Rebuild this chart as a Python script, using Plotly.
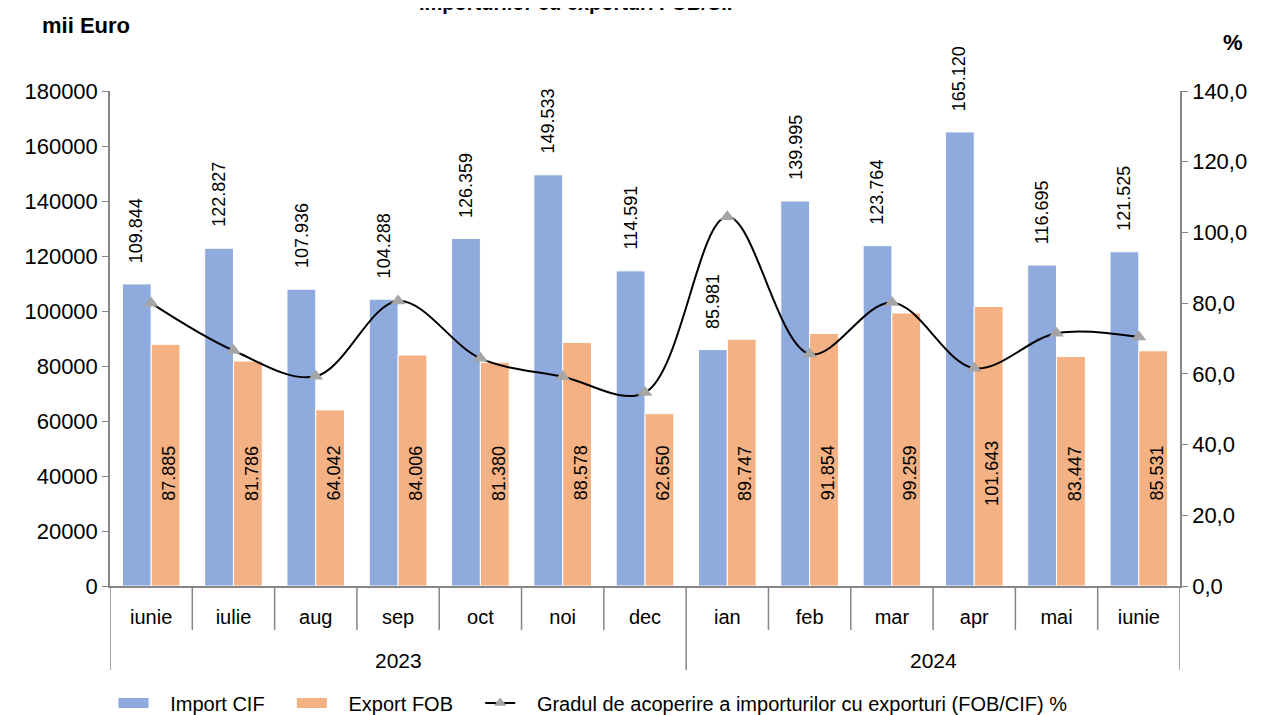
import plotly.graph_objects as go

months = ["iunie", "iulie", "aug", "sep", "oct", "noi", "dec",
          "ian", "feb", "mar", "apr", "mai", "iunie"]
years = ["2023", "2024"]
year_counts = [7, 6]
import_cif = [109844, 122827, 107936, 104288, 126359, 149533, 114591,
              85981, 139995, 123764, 165120, 116695, 121525]
export_fob = [87885, 81786, 64042, 84006, 81380, 88578, 62650,
              89747, 91854, 99259, 101643, 83447, 85531]
coverage = [80.0, 66.6, 59.3, 80.6, 64.4, 59.2, 54.7,
            104.4, 65.6, 80.2, 61.6, 71.5, 70.4]
left_ticks = [0, 20000, 40000, 60000, 80000, 100000, 120000, 140000, 160000, 180000]
right_ticks = [0, 20, 40, 60, 80, 100, 120, 140]
right_ticktext = ["0,0", "20,0", "40,0", "60,0", "80,0", "100,0", "120,0", "140,0"]

BLUE = "#8FAADC"
ORANGE = "#F4B183"
AXIS = "#868686"
FONT = "Liberation Sans, Arial, sans-serif"
NB = "\u00a0"

# page offset (body margin of the html page)
OFF = 8
W, H = 1265, 715
PL, PT, PW, PH = 110 - OFF, 91 - OFF, 1070, 495

def fmt(v):
    return f"{v:,}".replace(",", ".")

x = list(range(len(months)))
fig = go.Figure()
fig.add_trace(go.Bar(x=x, y=import_cif, name="Import CIF", marker_color=BLUE,
                     marker_line=dict(color="white", width=1), showlegend=False))
fig.add_trace(go.Bar(x=x, y=export_fob, name="Export FOB", marker_color=ORANGE,
                     marker_line=dict(color="white", width=1), showlegend=False))
fig.add_trace(go.Scatter(x=x, y=coverage, yaxis="y2", mode="lines+markers",
                         line=dict(color="black", width=2, shape="spline", smoothing=1),
                         marker=dict(symbol="triangle-up", size=13, color="#A5A5A5"),
                         showlegend=False))
# legend entries
fig.add_trace(go.Scatter(x=[None], y=[None], mode="lines", name=NB * 3 + "Import CIF" + NB * 4,
                         line=dict(color=BLUE, width=10)))
fig.add_trace(go.Scatter(x=[None], y=[None], mode="lines", name=NB * 3 + "Export FOB" + NB * 4,
                         line=dict(color=ORANGE, width=10)))
fig.add_trace(go.Scatter(x=[None], y=[None], mode="lines+markers",
                         name=NB * 3 + "Gradul de acoperire a importurilor cu exporturi (FOB/CIF) %",
                         line=dict(color="black", width=2),
                         marker=dict(symbol="triangle-up", size=11, color="#A5A5A5")))

ann = []
for i, v in enumerate(import_cif):
    ann.append(dict(x=i - 0.175, y=v, xref="x", yref="y", text=fmt(v), textangle=-90,
                    showarrow=False, yanchor="bottom", yshift=19,
                    font=dict(size=18, color="black", family=FONT)))
LABEL_Y = 41000
for i, v in enumerate(export_fob):
    ann.append(dict(x=i + 0.175, y=LABEL_Y, xref="x", yref="y", text=fmt(v), textangle=-90,
                    showarrow=False, xshift=4,
                    font=dict(size=18, color="black", family=FONT)))

def py(pix_below):
    return -pix_below / PH

start = 0
for yr, cnt in zip(years, year_counts):
    ann.append(dict(x=start + (cnt - 1) / 2, y=py(74), xref="x", yref="paper", text=yr,
                    showarrow=False, yanchor="middle",
                    font=dict(size=21, color="black", family=FONT)))
    start += cnt

ann.append(dict(x=(40 - 110) / PW, y=(586 - 25) / PH, xref="paper", yref="paper",
                text="<b>mii Euro</b>", xanchor="left", yanchor="middle", showarrow=False,
                font=dict(size=22, color="black", family=FONT)))
ann.append(dict(x=(1233 - 110) / PW, y=(586 - 42) / PH, xref="paper", yref="paper",
                text="<b>%</b>", showarrow=False, xanchor="center", yanchor="middle",
                font=dict(size=22, color="black", family=FONT)))
ann.append(dict(x=(579 - 110) / PW, y=(586 - 16) / PH, xref="paper", yref="paper",
                text="<b>importurilor cu exporturi FOB/CIF</b>", showarrow=False,
                xanchor="center", yanchor="bottom",
                font=dict(size=20, color="black", family=FONT)))

shapes = []
long_idx = {0, year_counts[0], len(months)}
for k in range(len(months) + 1):
    length = 84 if k in long_idx else 44
    shapes.append(dict(type="line", xref="x", yref="paper", x0=k - 0.5, x1=k - 0.5,
                       y0=0, y1=py(length), line=dict(color=AXIS, width=1.5)))

fig.update_layout(
    width=W, height=H,
    margin=dict(l=PL, r=W - PL - PW, t=PT, b=H - PT - PH, autoexpand=False),
    paper_bgcolor="white", plot_bgcolor="white",
    barmode="group", bargap=0.3, bargroupgap=0,
    font=dict(family=FONT, color="black"),
    xaxis=dict(range=[-0.5, len(months) - 0.5], tickvals=x, ticktext=months,
               showgrid=False, zeroline=False, showline=True, linecolor=AXIS, linewidth=1.5,
               ticks="", ticklabelstandoff=12, tickfont=dict(size=20, family=FONT),
               automargin=False),
    yaxis=dict(range=[0, 180000], tickvals=left_ticks, tickformat="d",
               showgrid=False, zeroline=False, showline=True, linecolor=AXIS, linewidth=1.5,
               ticks="outside", ticklen=6, tickcolor=AXIS,
               tickfont=dict(size=22, family=FONT), automargin=False),
    yaxis2=dict(range=[0, 140], overlaying="y", side="right", tickvals=right_ticks,
                ticktext=right_ticktext, showgrid=False, zeroline=False, showline=True,
                linecolor=AXIS, linewidth=1.5, ticks="outside", ticklen=6, tickcolor=AXIS,
                tickfont=dict(size=22, family=FONT), automargin=False),
    legend=dict(orientation="h", xref="container", x=(617 - OFF - 24) / W, xanchor="center",
                yref="container", y=(H - (703 - OFF)) / H, yanchor="middle",
                font=dict(size=20, family=FONT), itemwidth=30, traceorder="normal"),
    annotations=ann, shapes=shapes,
)
fig.write_html("out.html")
